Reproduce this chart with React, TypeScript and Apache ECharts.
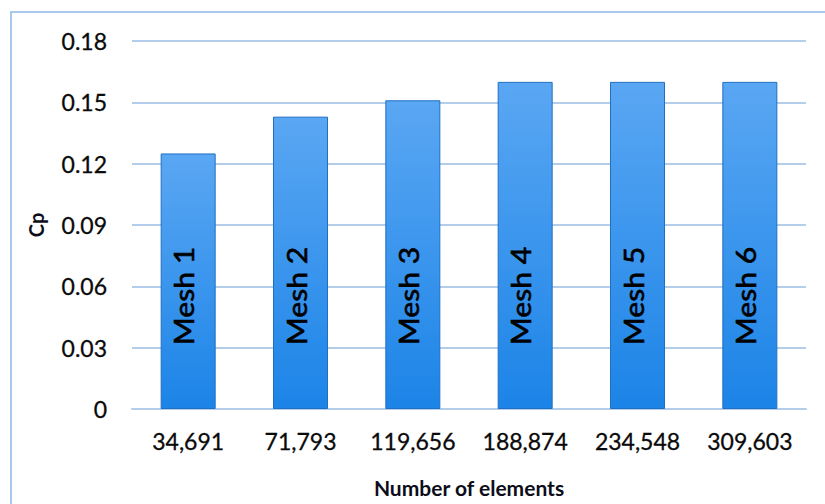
import React, { useEffect, useRef } from "react";
import * as echarts from "echarts";

// Mesh sizes (number of elements) and the resulting power coefficient
const elementCounts = ["34,691", "71,793", "119,656", "188,874", "234,548", "309,603"];
const cpValues = [0.125, 0.143, 0.151, 0.16, 0.16, 0.16];
const meshLabels = ["Mesh 1", "Mesh 2", "Mesh 3", "Mesh 4", "Mesh 5", "Mesh 6"];

const FONT = "Lato, 'Open Sans', sans-serif";

export default function App() {
  const ref = useRef<HTMLDivElement>(null);

  useEffect(() => {
    if (!ref.current) return;
    const chart = echarts.init(ref.current, null, { renderer: "svg" });

    chart.setOption({
      animation: false,
      backgroundColor: "#ffffff",
      textStyle: { fontFamily: FONT },
      grid: { left: 132, right: 19, top: 41, bottom: 95, containLabel: false },
      graphic: [
        {
          type: "rect",
          shape: { x: 11, y: 12, width: 840, height: 520 },
          style: { fill: "none", stroke: "#a9c9ec", lineWidth: 2 },
          silent: true,
          z: 100,
        },
      ],
      xAxis: {
        type: "category",
        data: elementCounts,
        name: "Number of elements",
        nameLocation: "middle",
        nameGap: 68,
        nameTextStyle: { fontFamily: FONT, fontWeight: "bold", fontSize: 21, color: "#0d0d1a" },
        axisLine: { show: true, lineStyle: { color: "#b4cdea", width: 2 } },
        axisTick: { show: false },
        axisLabel: {
          fontFamily: FONT,
          fontSize: 23,
          color: "#0a0a0a",
          margin: 20,
          textBorderColor: "#0a0a0a",
          textBorderWidth: 0.3,
        },
      },
      yAxis: {
        type: "value",
        min: 0,
        max: 0.18,
        interval: 0.03,
        name: "Cp",
        nameLocation: "middle",
        nameGap: 86,
        nameTextStyle: { fontFamily: FONT, fontWeight: "bold", fontSize: 20, color: "#0d0d1a" },
        axisLine: { show: false },
        axisTick: { show: false },
        axisLabel: {
          fontFamily: FONT,
          fontSize: 23,
          color: "#0a0a0a",
          margin: 25,
          textBorderColor: "#0a0a0a",
          textBorderWidth: 0.3,
          formatter: (v: number) => (v === 0 ? "0" : v.toFixed(2)),
        },
        splitLine: { lineStyle: { color: "#b4cdea", width: 2 } },
      },
      series: [
        {
          type: "bar",
          data: cpValues,
          barWidth: 55,
          itemStyle: {
            color: new echarts.graphic.LinearGradient(0, 0, 0, 1, [
              { offset: 0, color: "#5aa7f3" },
              { offset: 1, color: "#1c84e7" },
            ]),
            borderColor: "#1f6fc2",
            borderWidth: 1,
          },
        },
        {
          type: "custom",
          data: meshLabels.map((name, i) => ({ name, value: [i, 0] })),
          z: 10,
          renderItem: (params: any, api: any) => {
            const base = api.coord([api.value(0), 0]);
            return {
              type: "text",
              x: base[0] - 4,
              y: base[1] - 113,
              rotation: Math.PI / 2,
              scaleX: 1.16,
              scaleY: 1,
              style: {
                text: meshLabels[params.dataIndex],
                fontFamily: FONT,
                fontSize: 26,
                fill: "#000000",
                stroke: "#000000",
                lineWidth: 0.6,
                align: "center",
                verticalAlign: "middle",
              },
            };
          },
        },
      ],
    });

    return () => chart.dispose();
  }, []);

  return (
    <div
      ref={ref}
      style={{ position: "fixed", left: 0, top: 0, width: 825, height: 504 }}
    />
  );
}
